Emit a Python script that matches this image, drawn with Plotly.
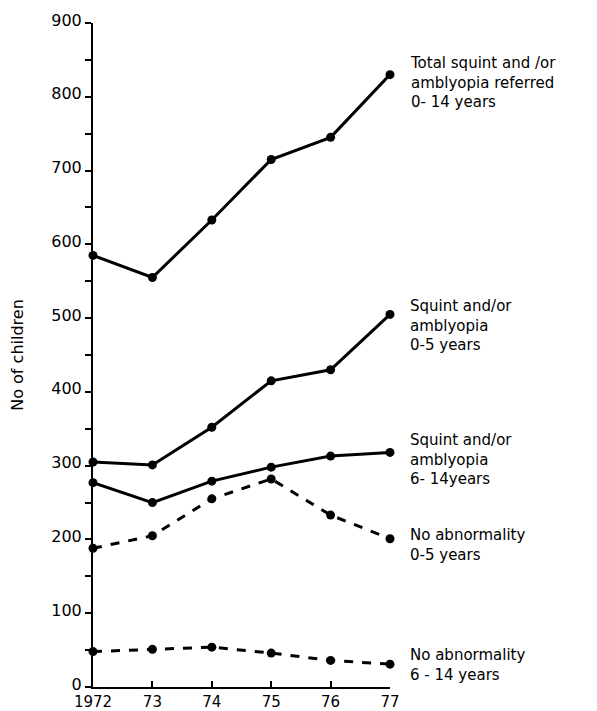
import plotly.graph_objects as go

years = [1972, 1973, 1974, 1975, 1976, 1977]
year_labels = ["1972", "73", "74", "75", "76", "77"]
total_referred = [585, 555, 633, 715, 745, 830]
squint_0_5 = [305, 301, 352, 415, 430, 505]
squint_6_14 = [277, 250, 279, 298, 313, 318]
noabn_0_5 = [188, 205, 255, 282, 233, 201]
noabn_6_14 = [48, 51, 54, 46, 36, 31]

series = [
    (total_referred, "solid", "Total squint and /or<br>amblyopia referred<br>0- 14 years", 52),
    (squint_0_5, "solid", "Squint and/or<br>amblyopia<br>0-5 years", 295),
    (squint_6_14, "solid", "Squint and/or<br>amblyopia<br>6- 14years", 429),
    (noabn_0_5, "dash", "No abnormality<br>0-5 years", 524),
    (noabn_6_14, "dash", "No abnormality<br>6 - 14 years", 644),
]

FONT = "DejaVu Sans"
fig = go.Figure()
for vals, dash, name, _ in series:
    fig.add_trace(go.Scatter(
        x=years, y=vals, mode="lines+markers", name=name.replace("<br>", " "),
        line=dict(color="black", width=3, dash=dash),
        marker=dict(color="black", size=9, symbol="circle"),
        cliponaxis=False, showlegend=False,
    ))

# page offset of 8px (body margin) compensated
T, B = 23, 687
def paper_y(px):
    return (B - px) / (B - T)

for _, _, name, top in series:
    fig.add_annotation(
        xref="paper", yref="paper", x=1.0, xshift=18, y=paper_y(top),
        xanchor="left", yanchor="top", align="left", showarrow=False,
        text=name, font=dict(family=FONT, size=15, color="black"),
    )

fig.update_layout(
    width=589, height=711,
    margin=dict(l=85, r=207, t=15, b=32, autoexpand=False),
    paper_bgcolor="white", plot_bgcolor="white",
    font=dict(family=FONT, size=15, color="black"),
)
fig.update_xaxes(
    range=[1972, 1977], tickvals=years, ticktext=year_labels,
    showline=True, linecolor="black", linewidth=2, ticks="inside",
    ticklen=6, tickwidth=2, tickcolor="black", showgrid=False, zeroline=False,
    tickfont=dict(family=FONT, size=15), automargin=False, ticklabelstandoff=0,
)
fig.update_yaxes(
    range=[0, 900], tickvals=list(range(0, 901, 100)),
    showline=True, linecolor="black", linewidth=2, ticks="outside",
    ticklen=6, tickwidth=2, tickcolor="black", showgrid=False, zeroline=False,
    minor=dict(tickvals=list(range(50, 900, 100)), ticks="outside", ticklen=6, tickwidth=2, tickcolor="black"),
    tickfont=dict(family=FONT, size=16), automargin=False, ticklabelshift=-3,
    title=dict(text="No of children", font=dict(family=FONT, size=16), standoff=28),
)
fig.write_html("out.html")
